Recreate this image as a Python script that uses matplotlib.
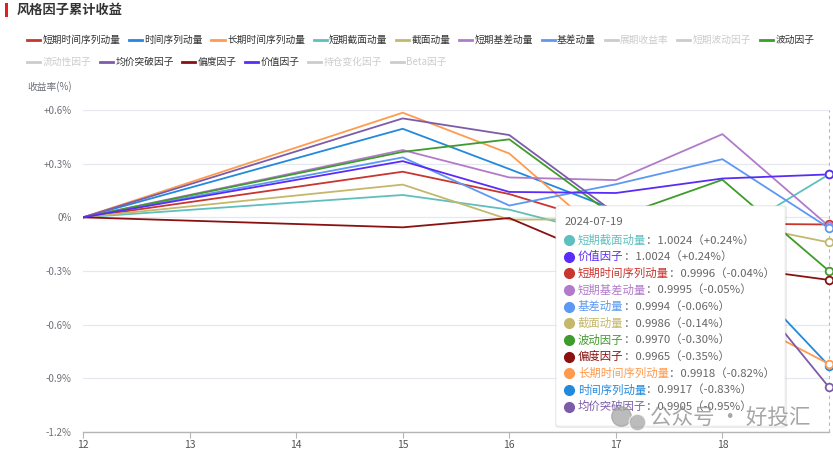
import matplotlib
matplotlib.use("Agg")
import matplotlib.pyplot as plt
from matplotlib.lines import Line2D
from matplotlib.patches import FancyBboxPatch, Rectangle

plt.rcParams['font.family'] = ['Noto Sans CJK SC', 'DejaVu Sans']

# ---------------- data ----------------
days = [12, 15, 16, 17, 18, 19]
x_ticks = [12, 13, 14, 15, 16, 17, 18]
x_tick_labels = ["12", "13", "14", "15", "16", "17", "18"]
y_ticks = [0.6, 0.3, 0.0, -0.3, -0.6, -0.9, -1.2]
y_tick_labels = ["+0.6%", "+0.3%", "0%", "-0.3%", "-0.6%", "-0.9%", "-1.2%"]

short_ts_mom = [0, 0.255, 0.13, -0.05, -0.035, -0.04]
ts_mom = [0, 0.495, 0.27, 0.04, -0.20, -0.83]
long_ts_mom = [0, 0.585, 0.357, -0.16, -0.51, -0.82]
short_cs_mom = [0, 0.125, 0.043, -0.11, -0.12, 0.24]
cs_mom = [0, 0.183, -0.013, -0.01, -0.02, -0.14]
short_basis_mom = [0, 0.376, 0.223, 0.208, 0.465, -0.05]
basis_mom = [0, 0.335, 0.066, 0.185, 0.325, -0.06]
volatility = [0, 0.366, 0.436, 0.0, 0.21, -0.30]
breakout = [0, 0.553, 0.46, 0.02, -0.22, -0.95]
skewness = [0, -0.056, -0.004, -0.256, -0.27, -0.35]
value = [0, 0.314, 0.142, 0.136, 0.217, 0.24]

series = [
    ("短期时间序列动量", short_ts_mom, "#c9352f"),
    ("时间序列动量", ts_mom, "#2289dc"),
    ("长期时间序列动量", long_ts_mom, "#ff9b4e"),
    ("短期截面动量", short_cs_mom, "#5fbfbf"),
    ("截面动量", cs_mom, "#c4b86c"),
    ("短期基差动量", short_basis_mom, "#b27bca"),
    ("基差动量", basis_mom, "#5d98f2"),
    ("波动因子", volatility, "#3f9b2c"),
    ("均价突破因子", breakout, "#7c5ca9"),
    ("偏度因子", skewness, "#8a1111"),
    ("价值因子", value, "#5a2cf7"),
]
colors = {n: c for n, _, c in series}
DISABLED = "#cccccc"

legend_row1 = ["短期时间序列动量", "时间序列动量", "长期时间序列动量", "短期截面动量", "截面动量",
               "短期基差动量", "基差动量", "展期收益率", "短期波动因子", "波动因子"]
legend_row2 = ["流动性因子", "均价突破因子", "偏度因子", "价值因子", "持仓变化因子", "Beta因子"]

tooltip_date = "2024-07-19"
tooltip_names = ["短期截面动量", "价值因子", "短期时间序列动量", "短期基差动量", "基差动量", "截面动量",
                 "波动因子", "偏度因子", "长期时间序列动量", "时间序列动量", "均价突破因子"]
tooltip_vals = ["1.0024", "1.0024", "0.9996", "0.9995", "0.9994", "0.9986",
                "0.9970", "0.9965", "0.9918", "0.9917", "0.9905"]
tooltip_pcts = ["+0.24%", "+0.24%", "-0.04%", "-0.05%", "-0.06%", "-0.14%",
                "-0.30%", "-0.35%", "-0.82%", "-0.83%", "-0.95%"]

# ---------------- figure ----------------
W, H = 833, 451
fig = plt.figure(figsize=(W / 100, H / 100), dpi=100)


def fx(px):
    return px / W


def fy(py):
    return 1 - py / H


ax = fig.add_axes([fx(83), fy(432), fx(829) - fx(83), fy(110) - fy(432)])
ax.set_xlim(12, 19)
ax.set_ylim(-1.2, 0.6)

for name, vals, col in series:
    ax.plot(days, vals, color=col, lw=1.3, zorder=3, solid_joinstyle='miter')
    ax.plot([days[-1]], [vals[-1]], marker='o', ms=5.5, mfc='white', mec=col, mew=1.3,
            zorder=5, clip_on=False)

ax.axvline(19, color='#b8b8b8', lw=0.8, ls=(0, (3, 3)), zorder=1, clip_on=False)

ax.set_yticks(y_ticks)
ax.set_yticklabels(y_tick_labels)
ax.set_xticks(x_ticks)
ax.set_xticklabels(x_tick_labels)
ax.grid(axis='y', color='#e6e8f0', lw=0.9)
ax.set_axisbelow(True)
for s in ['top', 'right', 'left']:
    ax.spines[s].set_visible(False)
ax.spines['bottom'].set_color('#b5b5b5')
ax.spines['bottom'].set_linewidth(1.0)
ax.tick_params(axis='y', length=0, labelsize=7, labelcolor='#6e7079', pad=8)
ax.tick_params(axis='x', length=4, color='#b5b5b5', labelsize=7.5, labelcolor='#555555', pad=1.5)

fig.text(fx(27), fy(87), "收益率(%)", fontsize=7, color='#6e7079', va='center', ha='left')

# ---------------- title ----------------
fig.add_artist(Rectangle((fx(5), fy(17)), fx(2.5), fy(3) - fy(17), transform=fig.transFigure,
                         color='#e0201b', lw=0))
fig.text(fx(17), fy(10), "风格因子累计收益", fontsize=9.5, fontweight='bold', color='#333333',
         va='center', ha='left')

# ---------------- legend ----------------
renderer = fig.canvas.get_renderer()


def draw_legend_row(names, y):
    x = 27
    for nm in names:
        col = colors.get(nm, DISABLED)
        tcol = '#333333' if nm in colors else DISABLED
        fig.add_artist(Line2D([fx(x), fx(x + 13)], [fy(y), fy(y)], color=col, lw=2,
                              transform=fig.transFigure))
        t = fig.text(fx(x + 15.5), fy(y), nm, fontsize=7, color=tcol, va='center', ha='left')
        w = t.get_window_extent(renderer).width
        x = x + 15.5 + w + 8.5


draw_legend_row(legend_row1, 40)
draw_legend_row(legend_row2, 62)

# ---------------- tooltip ----------------
tx0, ty0, tx1, ty1 = 556, 206, 785, 426
shadow = FancyBboxPatch((fx(tx0 - 1), fy(ty1 + 2)), fx(tx1 + 2) - fx(tx0 - 1), fy(ty0 - 1) - fy(ty1 + 2),
                        boxstyle="round,pad=0,rounding_size=0.006", transform=fig.transFigure,
                        fc='#000000', ec='none', alpha=0.08, zorder=6)
fig.add_artist(shadow)
box = FancyBboxPatch((fx(tx0), fy(ty1)), fx(tx1) - fx(tx0), fy(ty0) - fy(ty1),
                     boxstyle="round,pad=0,rounding_size=0.005", transform=fig.transFigure,
                     fc='white', ec='#eeeeee', lw=0.6, zorder=7)
fig.add_artist(box)
fig.text(fx(565), fy(222), tooltip_date, fontsize=8.2, color='#666666', va='center', ha='left', zorder=8)
for i, (nm, v, p) in enumerate(zip(tooltip_names, tooltip_vals, tooltip_pcts)):
    y = 240 + i * 16.65
    col = colors[nm]
    fig.add_artist(Line2D([fx(568.5)], [fy(y)], marker='o', ms=7, color=col, mec=col,
                          transform=fig.transFigure, zorder=8))
    t = fig.text(fx(578), fy(y), nm, fontsize=8.2, color=col, va='center', ha='left', zorder=8)
    w = t.get_window_extent(renderer).width
    fig.text(fx(578) + w / W, fy(y), "：" + v + "（" + p + "）", fontsize=8.2, color='#666666',
             va='center', ha='left', zorder=8)

# ---------------- watermark ----------------
fig.add_artist(Line2D([fx(621)], [fy(416)], marker='o', ms=14, color='#a0a0a0', alpha=0.7,
                      transform=fig.transFigure, zorder=9))
fig.add_artist(Line2D([fx(637)], [fy(422)], marker='o', ms=12, color='#a0a0a0', alpha=0.7,
                      mec='white', mew=1, transform=fig.transFigure, zorder=9))
fig.text(fx(650), fy(418), "公众号 · 好投汇", fontsize=15.5, color='#8a8a8a', alpha=0.75,
         va='center', ha='left', zorder=9)

fig.savefig("out.png", dpi=100)
